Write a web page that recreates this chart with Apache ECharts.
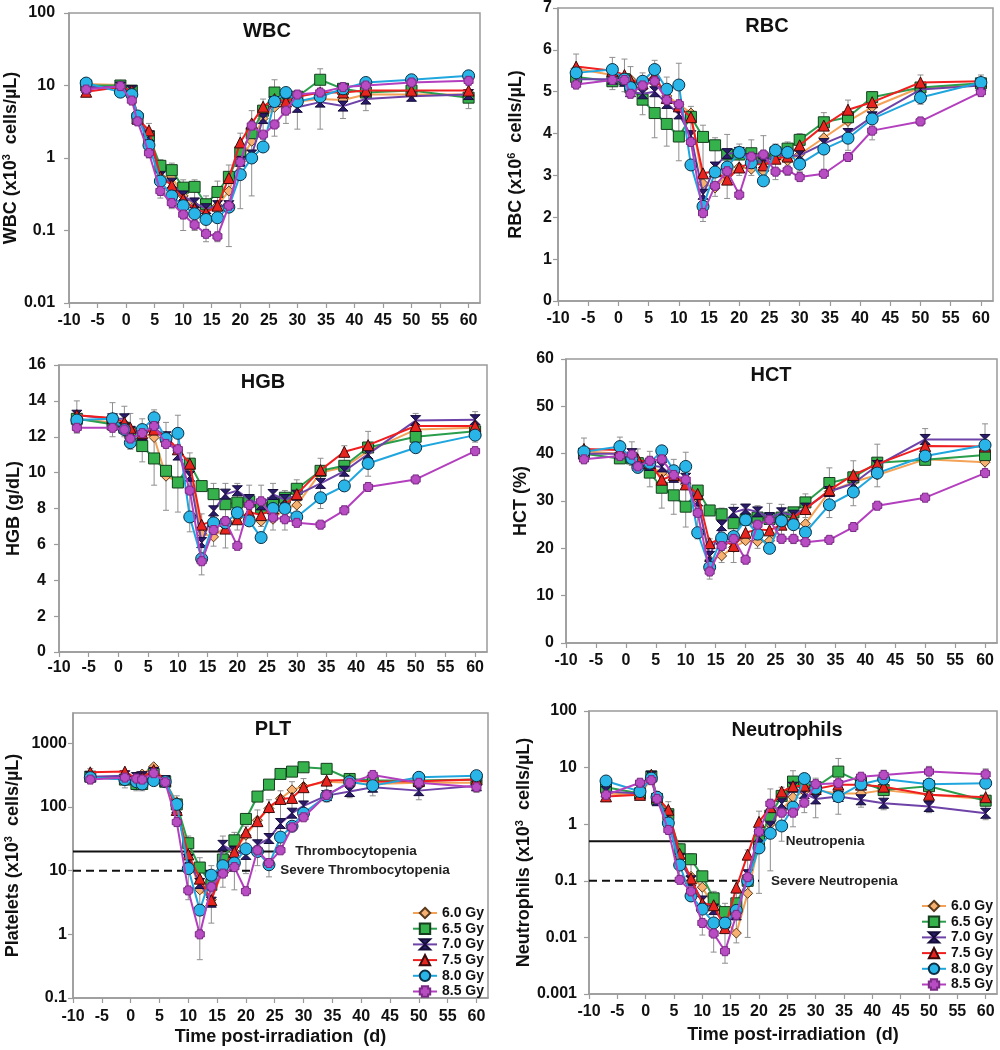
<!DOCTYPE html>
<html>
<head>
<meta charset="utf-8">
<script src="https://cdn.jsdelivr.net/npm/echarts@6/dist/echarts.min.js"></script>
<style>
html,body{margin:0;padding:0;background:#fff;}
#chart{width:1000px;height:1050px;}
</style>
</head>
<body>
<div id="chart"></div>
<script>
// ---------------- DATA ----------------
const T = [-7,-1,1,2,4,6,8,10,12,14,16,18,20,22,24,26,28,30,34,38,42,50,60];
const DOSES = ['6.0 Gy','6.5 Gy','7.0 Gy','7.5 Gy','8.0 Gy','8.5 Gy'];

const WBC_60 = [10.5,10.2,8.5,3.5,2.2,0.55,0.55,0.3,0.22,0.2,0.22,0.35,0.9,1.7,3.5,5,6,6,6.5,6.3,7.5,7.5,7.5];
const WBC_65 = [10,10,8.5,3.5,2.0,0.78,0.68,0.39,0.4,0.23,0.34,0.55,1.2,2.2,4.5,8,7,7,12,9,8,8.5,6.8];
const WBC_70 = [9.5,9.5,8.5,3.5,2.0,0.55,0.45,0.3,0.24,0.2,0.22,0.22,0.9,1.1,3.5,6,6,5,5.9,5.2,6.5,7.1,7.5];
const WBC_75 = [8.2,9.5,8.5,3.5,2.4,0.55,0.42,0.27,0.2,0.175,0.22,0.53,1.64,3,5.1,6.5,6,7,8,8,8.5,8.5,8.5];
const WBC_80 = [10.8,8.1,7.5,3.8,1.5,0.48,0.3,0.22,0.17,0.142,0.15,0.21,0.59,1,1.42,6,8,6,7,9,11,12,13.6];
const WBC_85 = [8.8,9.8,6.2,3.2,1.17,0.35,0.24,0.166,0.12,0.09,0.083,0.22,0.88,2.8,2.1,2.9,4.5,7.5,8,9.5,10,11,11.6];
const WBC_ERR = [[-7,7.5,12.5],[-1,8,11.5],[1,6,9.5],[4,1.0,3.0],[6,0.28,0.95],[8,0.2,0.85],[10,0.1,0.5],[12,0.1,0.5],[14,0.07,0.3],[16,0.07,0.48],[18,0.06,0.8],[20,0.2,2.2],[22,0.3,4.5],[24,1.5,6.5],[26,2.0,12],[28,3.0,9],[30,2.5,8.5],[34,2.5,17],[38,3.5,9.5],[42,4.5,11],[50,6.5,13],[60,4.8,14]];

const RBC_60 = [5.55,5.4,5.35,5.3,5.2,5.2,4.9,4.7,4.49,2.81,2.7,3.0,3.2,3.15,3.1,3.4,3.35,3.5,3.9,4.29,4.63,5.1,5.15];
const RBC_65 = [5.35,5.25,5.3,5.1,4.81,4.49,4.23,3.93,4.4,3.92,3.72,3.5,3.5,3.53,3.4,3.55,3.64,3.85,4.27,4.39,4.87,5.1,5.2];
const RBC_70 = [5.3,5.3,5.25,5.0,4.95,5.0,4.72,4.47,3.95,2.55,3.2,3.52,3.55,3.4,3.3,3.5,3.45,3.48,3.76,4.0,4.4,5.05,5.15];
const RBC_75 = [5.6,5.5,5.4,5.28,5.2,5.4,4.85,4.65,4.39,3.05,3.1,2.9,3.19,3.3,3.24,3.4,3.45,3.72,4.19,4.57,4.75,5.22,5.25];
const RBC_80 = [5.45,5.53,5.3,5.1,5.25,5.53,5.06,5.16,3.25,2.26,3.08,3.2,3.55,3.3,2.87,3.6,3.55,3.27,3.63,3.89,4.35,4.86,5.22];
const RBC_85 = [5.17,5.28,5.28,4.95,5.15,5.25,4.8,4.7,3.8,2.1,2.75,3.1,2.54,3.45,3.5,3.09,3.12,2.96,3.04,3.44,4.07,4.29,4.99];
const RBC_ERR = [[-7,5.2,5.9],[-1,5.05,5.82],[1,5.0,5.78],[2,4.9,5.6],[4,4.45,5.45],[6,3.9,5.75],[8,3.7,5.35],[10,3.35,5.68],[12,4.0,4.65],[14,1.9,4.2],[16,2.5,3.9],[18,2.45,3.98],[20,3.0,3.75],[22,3.0,3.85],[24,2.8,3.95],[26,2.9,3.75],[28,3.0,3.8],[30,3.1,4.0],[34,3.0,4.5],[38,3.6,4.8],[42,3.85,5.0],[50,4.7,5.4],[60,4.9,5.4]];

const HGB_60 = [13.0,12.8,12.5,12.3,12.2,11.96,9.8,9.5,10.3,6.6,6.42,7.0,7.5,7.5,7.29,7.4,8.0,8.19,10.0,10.3,11.2,12.4,12.5];
const HGB_65 = [13.0,12.7,12.5,12.2,11.48,10.79,10.1,9.45,10.5,9.25,8.8,8.24,8.33,8.4,8.04,8.3,8.6,9.1,10.1,10.38,11.4,12.0,12.3];
const HGB_70 = [13.2,13.0,13.0,12.3,12.1,12.5,12.0,10.98,9.8,6.1,7.87,8.8,8.99,8.5,8.2,8.78,8.5,8.74,9.4,10.08,11.03,12.9,12.95];
const HGB_75 = [13.2,13.05,12.8,12.5,12.2,12.4,12.0,11.3,10.5,7.1,7.3,6.88,7.4,7.8,7.63,8.0,8.2,8.8,10.14,11.16,11.53,12.6,12.6];
const HGB_80 = [12.93,13.0,12.4,11.67,12.4,13.06,11.9,12.19,7.53,5.2,7.2,7.2,7.76,7.31,6.38,8.0,8.0,7.53,8.6,9.26,10.51,11.39,12.09];
const HGB_85 = [12.5,12.5,12.4,11.9,12.2,12.6,11.6,11.3,9.0,5.06,6.8,7.3,5.92,8.2,8.4,7.5,7.4,7.2,7.1,7.9,9.2,9.62,11.2];
const HGB_ERR = [[-7,12.2,14.0],[-1,12.0,13.9],[1,12.0,13.7],[2,11.3,13.3],[4,10.6,13.0],[6,9.3,13.5],[8,7.9,12.8],[10,7.8,13.2],[12,6.7,11.1],[14,4.3,7.7],[16,5.9,9.4],[18,5.8,9.4],[20,6.8,9.4],[22,7.5,9.3],[24,7.0,9.3],[26,6.8,9.4],[28,6.8,9.0],[30,7.5,9.6],[34,8.0,10.8],[38,9.0,11.5],[42,9.8,12.3],[50,11.7,13.3],[60,11.7,13.4]];

const HCT_60 = [40.5,40.0,39,38,37.5,35.9,35,33.5,30.5,17.5,18.4,20.2,21.6,21.4,21.6,25,25,25.2,32,34,35.5,38.8,38.2];
const HCT_65 = [40,39,39,38,36,32.8,31.2,28.8,32.2,28,27.2,25.3,26,26.5,26.2,26.5,27.6,29.7,33.8,35,38.1,38.7,39.7];
const HCT_70 = [40,40,40,37.5,37.5,37.2,35,34.8,30,18.3,24.8,27.6,28.3,27.7,26.5,27.5,27,28.5,32,33.7,37.5,43,43];
const HCT_75 = [41,40.8,39.5,38.8,38,34.5,35.5,33.5,31.5,21.1,22,20.5,23.3,24,23.8,25,26.5,28.3,32.3,35.5,37.8,41.6,41.5];
const HCT_80 = [40.4,41.5,39,37.1,38,40.6,36.4,37.3,23.3,16,22.2,22.5,26,23,20,25.8,25,23.4,29.2,31.9,35.9,39.5,41.8];
const HCT_85 = [38.8,39.5,39.8,37.3,38.5,38.8,35.5,34.5,27.5,15.1,20.5,22,17.6,25,26,22,22,21.3,21.8,24.5,29,30.7,35.9];
const HCT_ERR = [[-7,38,43.3],[-1,38,43.5],[1,37.5,42.5],[2,36,41],[4,33,40.5],[6,28.5,40.8],[8,27.2,38.8],[10,24.5,40.3],[12,22,33],[14,13.5,22],[16,17,28.5],[18,17,29.3],[20,23,29],[22,20,29],[24,23,29.5],[26,23,29.3],[28,21,28.5],[30,26.5,31.5],[34,26.5,37],[38,29,38.5],[42,33,42],[50,39,45.3],[60,36.5,46.3]];

const PLT_60 = [290,300,300,330,430,250,120,18,5,3.5,10,20,36,62,95,135,186,210,250,240,230,240,240];
const PLT_65 = [300,270,230,230,330,250,110,27,11.2,6,15,30,65,146,225,331,360,421,398,276,260,260,270];
const PLT_70 = [300,310,290,300,350,260,97,15,6.3,3.2,25,20,18,25.5,32,55,80,104,151,175,205,181,215];
const PLT_75 = [351,360,280,290,380,260,90,18,7.5,3.45,11.2,19.7,40,60,100,134,139,205,260,265,250,255,270];
const PLT_80 = [290,270,250,230,260,250,110,10.8,2.4,8.5,12,13.2,22,20,12.4,33.7,50,80,150,250,217,293,311];
const PLT_85 = [270,290,280,270,340,245,58,4.9,1.0,5.6,9,11.4,4.76,20.9,13.2,20.9,48,69,155,240,319,240,205];
const PLT_ERR = [[-7,250,400],[-1,200,360],[1,180,340],[2,180,320],[4,280,460],[6,210,300],[8,50,150],[10,3.5,35],[12,0.4,16],[14,1.5,12],[16,5.5,35],[18,5,40],[20,9,50],[22,12,90],[24,8,130],[26,25,180],[28,70,250],[30,80,280],[34,120,330],[38,140,330],[42,150,340],[50,130,330],[60,170,330]];
const PLT_LIMITS = [20, 10];
const PLT_LIMIT_NAMES = ['Thrombocytopenia', 'Severe Thrombocytopenia'];

const NEU_60 = [3.5,3.3,6.5,2.8,1.6,0.2,0.12,0.077,0.035,0.02,0.0119,0.06,0.45,1.0,1.8,3.0,3.8,4.0,3.5,3.5,4.0,3.3,2.8];
const NEU_65 = [4.5,3.5,7,2.8,1.5,0.36,0.24,0.12,0.049,0.028,0.04,0.1,0.5,1.42,3.16,5.66,5.5,4.5,8.5,5.5,4.0,4.7,2.6];
const NEU_70 = [3.8,3.5,7,2.6,1.4,0.25,0.1,0.044,0.031,0.018,0.025,0.128,0.6,0.9,2.3,4.5,3.5,2.8,3.1,2.7,2.35,2.05,1.56];
const NEU_75 = [3.1,3.3,7.5,3.0,1.8,0.3,0.11,0.04,0.037,0.0146,0.076,0.29,1.1,2.0,3.77,4.7,4.8,4.2,5.0,5.0,4.6,3.3,3.0];
const NEU_80 = [5.8,3.77,6.5,3.0,1.05,0.19,0.054,0.0316,0.018,0.018,0.03,0.1,0.38,0.69,0.93,2.0,6.4,4.3,3.07,5.1,6.3,5.1,5.3];
const NEU_85 = [3.3,5.4,6.0,2.8,0.79,0.104,0.065,0.018,0.0117,0.0057,0.025,0.116,0.74,2.3,1.6,1.6,2.4,5.1,5.3,6.9,7.4,8.5,7.6];
const NEU_ERR = [[-7,2.8,6.8],[-1,3.0,5.5],[1,5,8.5],[2,2.2,3.8],[4,1.0,2.5],[6,0.1,0.45],[8,0.05,0.3],[10,0.011,0.1],[12,0.0055,0.065],[14,0.0035,0.04],[16,0.008,0.06],[18,0.01,0.35],[20,0.06,1.7],[22,0.15,4.2],[24,0.5,4.5],[26,0.9,8.8],[28,1.6,7.8],[30,1.3,6.5],[34,1.5,14.5],[38,2.0,7.5],[42,1.8,9],[50,1.6,10.5],[60,1.2,9.5]];
const NEU_LIMITS = [0.5, 0.1];
const NEU_LIMIT_NAMES = ['Neutropenia', 'Severe Neutropenia'];

// ---------------- STYLE / LAYOUT ----------------
const FONT = "'Liberation Sans', Arial, Helvetica, sans-serif";
const STYLES = [
  {symbol:'diamond', size:10, fill:'#F6B070', line:'#F3A257', border:'#5a3a1a'},
  {symbol:'rect', size:11, fill:'#35B24B', line:'#2A9E4C', border:'#153d1e'},
  {symbol:'path://M0,0L10,0L5,5L10,10L0,10L5,5Z', size:10, fill:'#2A1C6A', line:'#6E43A8', border:'#150c3a'},
  {symbol:'triangle', size:11, fill:'#E8241F', line:'#F01E1E', border:'#3a0a0a'},
  {symbol:'circle', size:12, fill:'#2AB5E8', line:'#1FA6DE', border:'#0b2f45'},
  {symbol:'path://M2,0H8V2H10V8H8V10H2V8H0V2H2Z', size:9, fill:'#B84CC2', line:'#B33FBE', border:'#7a2a84'}
];

const PANELS = [
  {title:'WBC', tx:267, ty:31, grid:{left:67, top:13, width:413, height:290},
   log:true, min:0.01, max:100, data:[WBC_60,WBC_65,WBC_70,WBC_75,WBC_80,WBC_85], err:WBC_ERR,
   yName:'{n|WBC (x10}{s|3}{n|  cells/µL)}', yGap:46, yMargin:14, xMargin:10},
  {title:'RBC', tx:767, ty:26, grid:{left:558, top:8, width:435, height:293},
   log:false, min:0, max:7, interval:1, data:[RBC_60,RBC_65,RBC_70,RBC_75,RBC_80,RBC_85], err:RBC_ERR,
   yName:'{n|RBC (x10}{s|6}{n|  cells/µL)}', yGap:32, yMargin:6, xMargin:10},
  {title:'HGB', tx:263, ty:382, grid:{left:59, top:365, width:428, height:287},
   log:false, min:0, max:16, interval:2, data:[HGB_60,HGB_65,HGB_70,HGB_75,HGB_80,HGB_85], err:HGB_ERR,
   yName:'{n|HGB (g/dL)}', yGap:35, yMargin:13, xMargin:8},
  {title:'HCT', tx:771, ty:375, grid:{left:566, top:359, width:431, height:284},
   log:false, min:0, max:60, interval:10, data:[HCT_60,HCT_65,HCT_70,HCT_75,HCT_80,HCT_85], err:HCT_ERR,
   yName:'{n|HCT (%)}', yGap:35, yMargin:12, xMargin:10},
  {title:'PLT', tx:273, ty:729, grid:{left:73, top:713, width:415, height:285},
   log:true, min:0.1, max:3000, data:[PLT_60,PLT_65,PLT_70,PLT_75,PLT_80,PLT_85], err:PLT_ERR,
   yName:'{n|Platelets (x10}{s|3}{n|  cells/µL)}', yGap:50, yMargin:6, xMargin:11,
   xName:'Time post-irradiation  (d)', xGap:30,
   limits:PLT_LIMITS, limitNames:PLT_LIMIT_NAMES, limitEnds:[25.6,21.6], limitDist:[17,25]},
  {title:'Neutrophils', tx:787, ty:730, grid:{left:589, top:711, width:408, height:283},
   log:true, min:0.001, max:100, data:[NEU_60,NEU_65,NEU_70,NEU_75,NEU_80,NEU_85], err:NEU_ERR,
   yName:'{n|Neutrophils (x10}{s|3}{n|  cells/µL)}', yGap:52, yMargin:12, xMargin:10,
   xName:'Time post-irradiation  (d)', xGap:32,
   limits:NEU_LIMITS, limitNames:NEU_LIMIT_NAMES, limitEnds:[21,20], limitDist:[21,12]}
];

const AXIS_GREY = '#9b9b9b';
const labelFmt = v => {
  const r = +(+v).toPrecision(6);
  return String(r);
};

const grids = [], xAxes = [], yAxes = [], series = [], graphics = [];

PANELS.forEach((p, i) => {
  grids.push(Object.assign({show:true, borderColor:AXIS_GREY, borderWidth:1.5, containLabel:false}, p.grid));
  xAxes.push({
    type:'value', gridIndex:i, min:-10, max:62, interval:5,
    axisLine:{show:true, onZero:false, lineStyle:{color:AXIS_GREY, width:1.5}},
    axisTick:{show:true, length:5, lineStyle:{color:AXIS_GREY, width:1.2}},
    splitLine:{show:false},
    axisLabel:{showMaxLabel:false, margin:p.xMargin, color:'#111', fontSize:16, fontWeight:'bold', fontFamily:FONT,
      formatter: v => (Math.abs(v % 5) < 1e-9 ? String(v) : '')},
    name: p.xName || '', nameLocation:'middle', nameGap: p.xGap || 30,
    nameTextStyle:{color:'#111', fontSize:18, fontWeight:'bold', fontFamily:FONT}
  });
  const y = {
    type: p.log ? 'log' : 'value', gridIndex:i, min:p.min, max:p.max,
    axisLine:{show:true, onZero:false, lineStyle:{color:AXIS_GREY, width:1.5}},
    axisTick:{show:true, length:5, lineStyle:{color:AXIS_GREY, width:1.2}},
    splitLine:{show:false},
    axisLabel:{margin:p.yMargin, color:'#111', fontSize:16, fontWeight:'bold', fontFamily:FONT, formatter:labelFmt,
      showMaxLabel: p.title === 'PLT' ? false : true},
    name:p.yName, nameLocation:'middle', nameRotate:90, nameGap:p.yGap,
    nameTextStyle:{rich:{
      n:{fontSize:18, fontWeight:'bold', fontFamily:FONT, color:'#111', lineHeight:20},
      s:{fontSize:11, fontWeight:'bold', fontFamily:FONT, color:'#111', verticalAlign:'top', lineHeight:20}
    }}
  };
  if (p.log) y.logBase = 10; else y.interval = p.interval;
  yAxes.push(y);

  // error bars (grey, below the lines)
  series.push({
    type:'custom', name:'err'+i, xAxisIndex:i, yAxisIndex:i, data:p.err, silent:true, z:1,
    encode:{x:0, y:[1,2]},
    renderItem:(params, api) => {
      const x = api.value(0);
      const a = api.coord([x, api.value(1)]);
      const b = api.coord([x, api.value(2)]);
      const st = {stroke:'#8f8f8f', lineWidth:1};
      const c = 3;
      return {type:'group', children:[
        {type:'line', shape:{x1:a[0], y1:a[1], x2:b[0], y2:b[1]}, style:st},
        {type:'line', shape:{x1:a[0]-c, y1:a[1], x2:a[0]+c, y2:a[1]}, style:st},
        {type:'line', shape:{x1:b[0]-c, y1:b[1], x2:b[0]+c, y2:b[1]}, style:st}
      ]};
    }
  });

  // threshold lines
  if (p.limits) {
    p.limits.forEach((lv, k) => {
      series.push({
        type:'line', name:p.limitNames[k], xAxisIndex:i, yAxisIndex:i, silent:true, z:1.5,
        data:[[-10, lv], [p.limitEnds[k], lv]], symbol:'none',
        lineStyle:{color:'#111', width:2, type: k === 0 ? 'solid' : [8,5]},
        endLabel:{show:true, formatter:p.limitNames[k], distance:p.limitDist[k], color:'#222',
          fontSize:13.5, fontWeight:'bold', fontFamily:FONT}
      });
    });
  }

  p.data.forEach((vals, k) => {
    const s = STYLES[k];
    series.push({
      type:'line', name:DOSES[k], xAxisIndex:i, yAxisIndex:i, z:2 + k * 0.01,
      data: T.map((t, j) => [t, vals[j]]),
      symbol:s.symbol, symbolSize:s.size, showAllSymbol:true,
      lineStyle:{color:s.line, width:2},
      itemStyle:{color:s.fill, borderColor:s.border, borderWidth:1},
      emphasis:{disabled:true}
    });
  });

  graphics.push({type:'text', x:p.tx, y:p.ty, silent:true,
    style:{text:p.title, textAlign:'center', textVerticalAlign:'middle', fill:'#111',
      font:'bold 20px ' + FONT}});
});

const legendCommon = {
  orient:'vertical', itemWidth:24, itemHeight:13, itemGap:1.7, padding:0,
  data:DOSES, selectedMode:false,
  textStyle:{color:'#111', fontSize:14, fontWeight:'bold', fontFamily:FONT}
};

const option = {
  animation:false,
  backgroundColor:'#ffffff',
  grid:grids, xAxis:xAxes, yAxis:yAxes, series:series,
  legend:[
    Object.assign({left:412, top:906}, legendCommon),
    Object.assign({left:921, top:899}, legendCommon)
  ],
  graphic:graphics
};

const chart = echarts.init(document.getElementById('chart'), null, {renderer:'canvas'});
chart.setOption(option);
</script>
</body>
</html>
